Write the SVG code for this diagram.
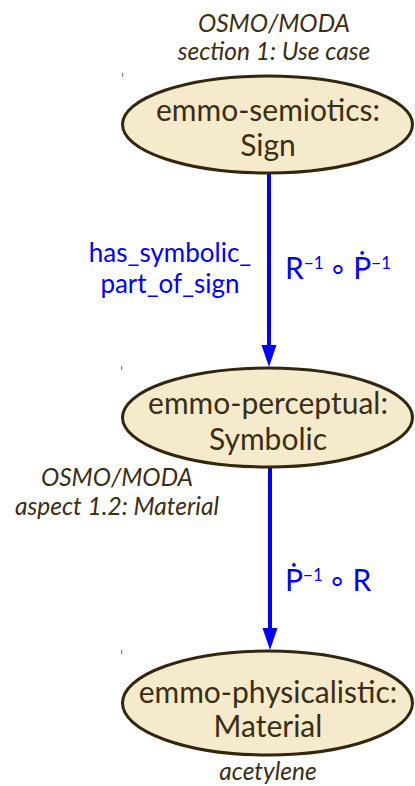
<svg xmlns="http://www.w3.org/2000/svg" width="415" height="786" viewBox="0 0 415 786">
<style>
.node ellipse{fill:#f5ebcc;stroke:#33260f;stroke-width:3}
.nt{font-family:Lato,"Noto Sans","DejaVu Sans",sans-serif;font-size:30px;fill:#3b2e14;text-anchor:middle}
.note{font-family:Lato,"Noto Sans","DejaVu Sans",sans-serif;font-size:24.5px;font-style:italic;fill:#3b2e14;text-anchor:middle}
.edge line{stroke:#0000ff;stroke-width:4}
.el{font-family:Lato,"Noto Sans","DejaVu Sans",sans-serif;font-size:26px;fill:#0000ff;text-anchor:middle}
.ef{font-family:Lato,"Noto Sans","DejaVu Sans",sans-serif;font-size:30px;fill:#0000ff}
.sup{font-size:17px}
.tick{fill:#8a8270}
</style>
<rect width="415" height="786" fill="#ffffff"/>
<rect class="tick" x="122" y="73" width="1.2" height="4"/>
<rect class="tick" x="121" y="366" width="1.2" height="4"/>
<rect class="tick" x="121" y="650" width="1.2" height="4"/>
<g id="connectors" class="edge">
<g id="e1">
<line x1="269" y1="173" x2="269" y2="350"/>
<path d="M261.5,345 L276.5,345 L269,367 Z" fill="#0000ff"/>
<text class="el" x="170" y="262">has_symbolic_</text>
<text class="el" x="170" y="293">part_of_sign</text>
<text class="ef" x="285" y="279">R<tspan class="sup" dy="-10">−1</tspan><tspan dy="10" dx="5">∘</tspan><tspan dx="6">Ṗ</tspan><tspan class="sup" dy="-10">−1</tspan></text>
</g>
<g id="e2">
<line x1="270" y1="467" x2="270" y2="633"/>
<path d="M262.5,628 L277.5,628 L270,650 Z" fill="#0000ff"/>
<text class="ef" x="285" y="591">Ṗ<tspan class="sup" dy="-10">−1</tspan><tspan dy="10" dx="5">∘</tspan><tspan dx="6">R</tspan></text>
</g>
</g>
<g id="note-top">
<text class="note" x="274" y="32">OSMO/MODA</text>
<text class="note" x="274" y="60">section 1: Use case</text>
</g>
<g id="n-sign" class="node">
<ellipse cx="267.5" cy="124.5" rx="145" ry="48.5"/>
<text class="nt" x="268" y="121">emmo-semiotics:</text>
<text class="nt" x="268" y="156">Sign</text>
</g>
<g id="n-symbolic" class="node">
<ellipse cx="267.5" cy="417.5" rx="145" ry="49.5"/>
<text class="nt" x="268" y="414">emmo-perceptual:</text>
<text class="nt" x="268" y="450">Symbolic</text>
</g>
<g id="note-left">
<text class="note" x="117" y="486">OSMO/MODA</text>
<text class="note" x="117" y="515">aspect 1.2: Material</text>
</g>
<g id="n-material" class="node">
<ellipse cx="267.5" cy="703" rx="145" ry="52"/>
<text class="nt" x="268" y="703">emmo-physicalistic:</text>
<text class="nt" x="268" y="737">Material</text>
</g>
<g id="note-bottom">
<text class="note" x="268" y="780">acetylene</text>
</g>
</svg>
